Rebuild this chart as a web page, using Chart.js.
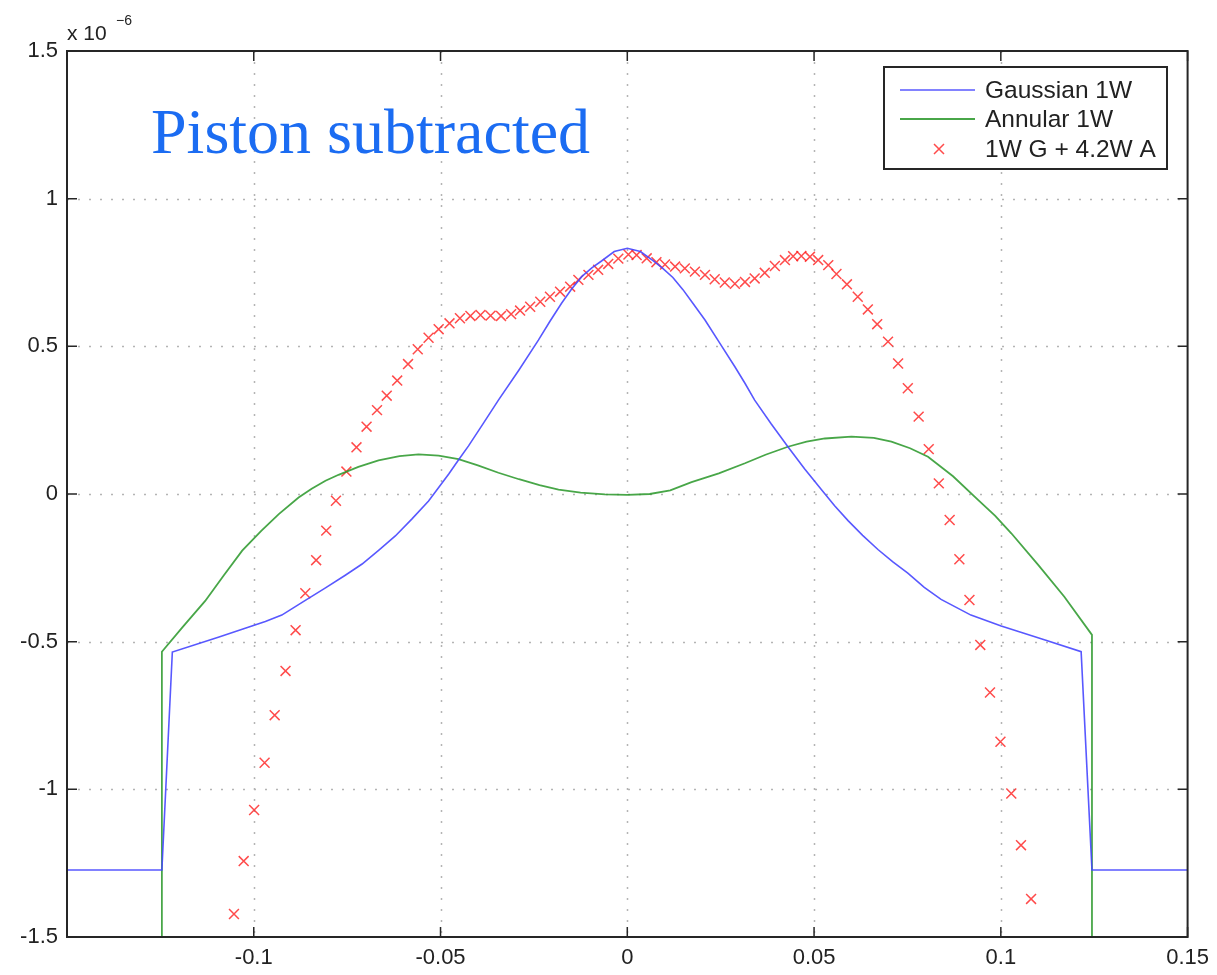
<!DOCTYPE html>
<html>
<head>
<meta charset="utf-8">
<script src="https://cdn.jsdelivr.net/npm/chart.js@4.4.1/dist/chart.umd.min.js"></script>
<style>
  html, body { margin: 0; padding: 0; background: #fff; }
  canvas { display: block; }
</style>
</head>
<body>
<canvas id="phaseChart" width="1217" height="975"></canvas>
<script>
// Tick positions and labels (values in units of 1e-6)
const xTicks = [-0.15, -0.1, -0.05, 0, 0.05, 0.1, 0.15];
const xTickLabels = ['', '-0.1', '-0.05', '0', '0.05', '0.1', '0.15'];
const yTicks = [-1.5, -1, -0.5, 0, 0.5, 1, 1.5];
const yTickLabels = ['-1.5', '-1', '-0.5', '0', '0.5', '1', '1.5'];

// Gaussian 1W profile
const gaussX = [-0.15, -0.1246, -0.1218, -0.1095, -0.0969, -0.0925, -0.0862, -0.0808, -0.0755, -0.071,
    -0.0665, -0.0621, -0.0577, -0.0532, -0.0505, -0.0478, -0.0452, -0.0425, -0.0385, -0.0345,
    -0.029, -0.0238, -0.0207, -0.0176, -0.0149, -0.0122, -0.0095, -0.0069, -0.0035, 0,
    0.0035, 0.0069, 0.0095, 0.0122, 0.0149, 0.0176, 0.0208, 0.0248, 0.0288, 0.0315,
    0.0341, 0.0385, 0.043, 0.0475, 0.052, 0.0555, 0.0591, 0.063, 0.0671, 0.0711,
    0.0751, 0.0795, 0.084, 0.092, 0.1001, 0.1108, 0.1215, 0.1244, 0.15];
const gaussY = [-1.273, -1.273, -0.535, -0.485, -0.432, -0.41, -0.36, -0.318, -0.275, -0.237,
    -0.19, -0.142, -0.085, -0.024, 0.022, 0.068, 0.115, 0.163, 0.24, 0.318,
    0.42, 0.521, 0.585, 0.646, 0.694, 0.736, 0.766, 0.789, 0.821, 0.832,
    0.821, 0.79, 0.764, 0.733, 0.692, 0.645, 0.589, 0.51, 0.431, 0.375,
    0.318, 0.238, 0.16, 0.085, 0.014, -0.04, -0.09, -0.14, -0.188, -0.23,
    -0.268, -0.316, -0.357, -0.41, -0.447, -0.49, -0.534, -1.273, -1.273];

// Annular 1W profile
const annX = [-0.1246, -0.1246, -0.119, -0.113, -0.108, -0.1031, -0.098, -0.0933, -0.088, -0.0845,
    -0.0808, -0.0773, -0.072, -0.0666, -0.061, -0.0559, -0.0505, -0.0452, -0.04, -0.0345,
    -0.029, -0.0235, -0.0184, -0.0125, -0.006, 0, 0.006, 0.0115, 0.0172, 0.0245,
    0.0315, 0.037, 0.043, 0.048, 0.0529, 0.06, 0.066, 0.0707, 0.0757, 0.0805,
    0.0872, 0.0939, 0.0985, 0.1028, 0.11, 0.117, 0.1244, 0.1244];
const annY = [-1.5, -0.534, -0.45, -0.362, -0.275, -0.192, -0.125, -0.068, -0.012, 0.018,
    0.045, 0.065, 0.092, 0.114, 0.128, 0.134, 0.13, 0.118, 0.097, 0.072,
    0.05, 0.03, 0.015, 0.005, -0.001, -0.003, 0, 0.012, 0.04, 0.07,
    0.104, 0.133, 0.16, 0.177, 0.188, 0.194, 0.19, 0.177, 0.155, 0.126,
    0.06, -0.02, -0.074, -0.133, -0.24, -0.348, -0.477, -1.5];

// 1W G + 4.2W A combined profile (sampled)
const combX = [-0.1053, -0.1027, -0.0999, -0.0971, -0.0944, -0.0915, -0.0888, -0.0862, -0.0833, -0.0806,
    -0.078, -0.0752, -0.0725, -0.0698, -0.067, -0.0644, -0.0616, -0.0587, -0.0561, -0.0532,
    -0.0505, -0.0476, -0.0448, -0.042, -0.0393, -0.0366, -0.0338, -0.0311, -0.0287, -0.026,
    -0.0233, -0.0207, -0.018, -0.0153, -0.0131, -0.0104, -0.0078, -0.0051, -0.0024, 0.0003,
    0.0025, 0.0052, 0.0078, 0.0101, 0.0128, 0.0154, 0.0181, 0.0208, 0.0234, 0.0261,
    0.0288, 0.0315, 0.0341, 0.0368, 0.0395, 0.0422, 0.0444, 0.0466, 0.0489, 0.0511,
    0.0538, 0.056, 0.0588, 0.0617, 0.0644, 0.0669, 0.0698, 0.0725, 0.0751, 0.078,
    0.0807, 0.0834, 0.0863, 0.0889, 0.0916, 0.0945, 0.0971, 0.0999, 0.1028, 0.1054,
    0.1081];
const combY = [-1.422, -1.243, -1.07, -0.91, -0.749, -0.599, -0.461, -0.336, -0.224, -0.124,
    -0.023, 0.076, 0.158, 0.228, 0.284, 0.333, 0.384, 0.44, 0.49, 0.529,
    0.558, 0.578, 0.595, 0.603, 0.606, 0.604, 0.603, 0.609, 0.621, 0.634,
    0.651, 0.668, 0.685, 0.702, 0.725, 0.742, 0.759, 0.779, 0.797, 0.811,
    0.809, 0.798, 0.785, 0.777, 0.77, 0.764, 0.753, 0.742, 0.727, 0.716,
    0.712, 0.718, 0.73, 0.749, 0.772, 0.792, 0.805, 0.806, 0.803, 0.792,
    0.775, 0.745, 0.71, 0.668, 0.625, 0.575, 0.516, 0.442, 0.358, 0.262,
    0.152, 0.036, -0.088, -0.221, -0.359, -0.511, -0.672, -0.839, -1.014, -1.189,
    -1.371];

const toPoints = (xs, ys) => xs.map((x, i) => ({ x: x, y: ys[i] }));

// grid, axes box, inward ticks, legend and annotations
const matlabFrame = {
    id: 'matlabFrame',
    beforeDatasetsDraw(chart) {
        const { ctx, chartArea: a, scales } = chart;
        ctx.save();
        ctx.strokeStyle = '#b4b4b4';
        ctx.lineWidth = 1.5;
        ctx.setLineDash([2, 9]);
        xTicks.forEach(v => {
            if (v <= xTicks[0] || v >= xTicks[xTicks.length - 1]) return;
            const px = Math.round(scales.x.getPixelForValue(v)) + 0.5;
            ctx.beginPath();
            ctx.moveTo(px, a.top);
            ctx.lineTo(px, a.bottom);
            ctx.stroke();
        });
        yTicks.forEach(v => {
            if (v <= yTicks[0] || v >= yTicks[yTicks.length - 1]) return;
            const py = Math.round(scales.y.getPixelForValue(v)) + 0.5;
            ctx.beginPath();
            ctx.moveTo(a.left, py);
            ctx.lineTo(a.right, py);
            ctx.stroke();
        });
        ctx.restore();
    },
    afterDraw(chart) {
        const { ctx, chartArea: a, scales } = chart;
        ctx.save();

        // axes box
        ctx.strokeStyle = '#262626';
        ctx.lineWidth = 2;
        ctx.strokeRect(a.left, a.top, a.right - a.left, a.bottom - a.top);

        // inward tick marks on all four sides
        ctx.lineWidth = 1.5;
        const tl = 10;
        xTicks.forEach(v => {
            const px = scales.x.getPixelForValue(v);
            ctx.beginPath();
            ctx.moveTo(px, a.bottom); ctx.lineTo(px, a.bottom - tl);
            ctx.moveTo(px, a.top); ctx.lineTo(px, a.top + tl);
            ctx.stroke();
        });
        yTicks.forEach(v => {
            const py = scales.y.getPixelForValue(v);
            ctx.beginPath();
            ctx.moveTo(a.left, py); ctx.lineTo(a.left + tl, py);
            ctx.moveTo(a.right, py); ctx.lineTo(a.right - tl, py);
            ctx.stroke();
        });

        // exponent label
        ctx.fillStyle = '#222';
        ctx.textBaseline = 'alphabetic';
        ctx.textAlign = 'left';
        ctx.font = '21px "Liberation Sans", Arial, sans-serif';
        ctx.fillText('x 10', 67, 40);
        ctx.font = '14px "Liberation Sans", Arial, sans-serif';
        ctx.fillText('\u22126', 116, 25);

        // panel title
        ctx.fillStyle = '#1b6cf2';
        ctx.font = '64px "Liberation Serif", "Times New Roman", serif';
        ctx.fillText('Piston subtracted', 151, 153);

        // legend box
        const box = { left: 884, top: 67, right: 1167, bottom: 169 };
        ctx.fillStyle = '#fff';
        ctx.fillRect(box.left, box.top, box.right - box.left, box.bottom - box.top);
        ctx.strokeStyle = '#262626';
        ctx.lineWidth = 2;
        ctx.strokeRect(box.left, box.top, box.right - box.left, box.bottom - box.top);

        const rows = [90, 119, 149];
        ctx.font = '24.5px "Liberation Sans", Arial, sans-serif';
        ctx.textBaseline = 'middle';
        chart.data.datasets.forEach((ds, i) => {
            const y = rows[i];
            ctx.strokeStyle = ds.borderColor;
            ctx.lineWidth = ds.borderWidth;
            ctx.beginPath();
            if (ds.showLine) {
                ctx.moveTo(900, y);
                ctx.lineTo(975, y);
            } else {
                const r = 5;
                ctx.moveTo(939 - r, y - r); ctx.lineTo(939 + r, y + r);
                ctx.moveTo(939 - r, y + r); ctx.lineTo(939 + r, y - r);
            }
            ctx.stroke();
            ctx.fillStyle = '#222';
            ctx.fillText(ds.label, 985, y + 1);
        });

        ctx.restore();
    }
};

const ctx = document.getElementById('phaseChart').getContext('2d');
const chart = new Chart(ctx, {
    type: 'scatter',
    data: {
        datasets: [
            {
                label: 'Gaussian 1W',
                data: toPoints(gaussX, gaussY),
                showLine: true,
                borderColor: 'rgba(70, 70, 255, 0.9)',
                borderWidth: 1.6,
                pointRadius: 0,
                tension: 0
            },
            {
                label: 'Annular 1W',
                data: toPoints(annX, annY),
                showLine: true,
                borderColor: 'rgba(40, 150, 40, 0.85)',
                borderWidth: 1.8,
                pointRadius: 0,
                tension: 0
            },
            {
                label: '1W G + 4.2W A',
                data: toPoints(combX, combY),
                showLine: false,
                pointStyle: 'crossRot',
                pointRadius: 7,
                borderColor: 'rgba(255, 30, 30, 0.8)',
                borderWidth: 1.5
            }
        ]
    },
    options: {
        responsive: false,
        animation: false,
        layout: {
            padding: { top: 51, right: 27, left: 0, bottom: 0 }
        },
        plugins: {
            legend: { display: false },
            tooltip: { enabled: false }
        },
        scales: {
            x: {
                type: 'linear',
                min: -0.15,
                max: 0.15,
                afterBuildTicks: scale => {
                    scale.ticks = xTicks.map(v => ({ value: v }));
                },
                afterFit: scale => { scale.height = 38; },
                grid: { display: false, drawTicks: false },
                border: { display: false },
                ticks: {
                    padding: 8,
                    color: '#222',
                    font: { family: '"Liberation Sans", Arial, sans-serif', size: 22 },
                    maxRotation: 0,
                    autoSkip: false,
                    callback: (value, index) => xTickLabels[index]
                }
            },
            y: {
                type: 'linear',
                min: -1.5,
                max: 1.5,
                afterBuildTicks: scale => {
                    scale.ticks = yTicks.map(v => ({ value: v }));
                },
                afterFit: scale => { scale.width = 67; },
                grid: { display: false, drawTicks: false },
                border: { display: false },
                ticks: {
                    padding: 9,
                    color: '#222',
                    font: { family: '"Liberation Sans", Arial, sans-serif', size: 22 },
                    autoSkip: false,
                    callback: (value, index) => yTickLabels[index]
                }
            }
        }
    },
    plugins: [matlabFrame]
});
</script>
</body>
</html>
